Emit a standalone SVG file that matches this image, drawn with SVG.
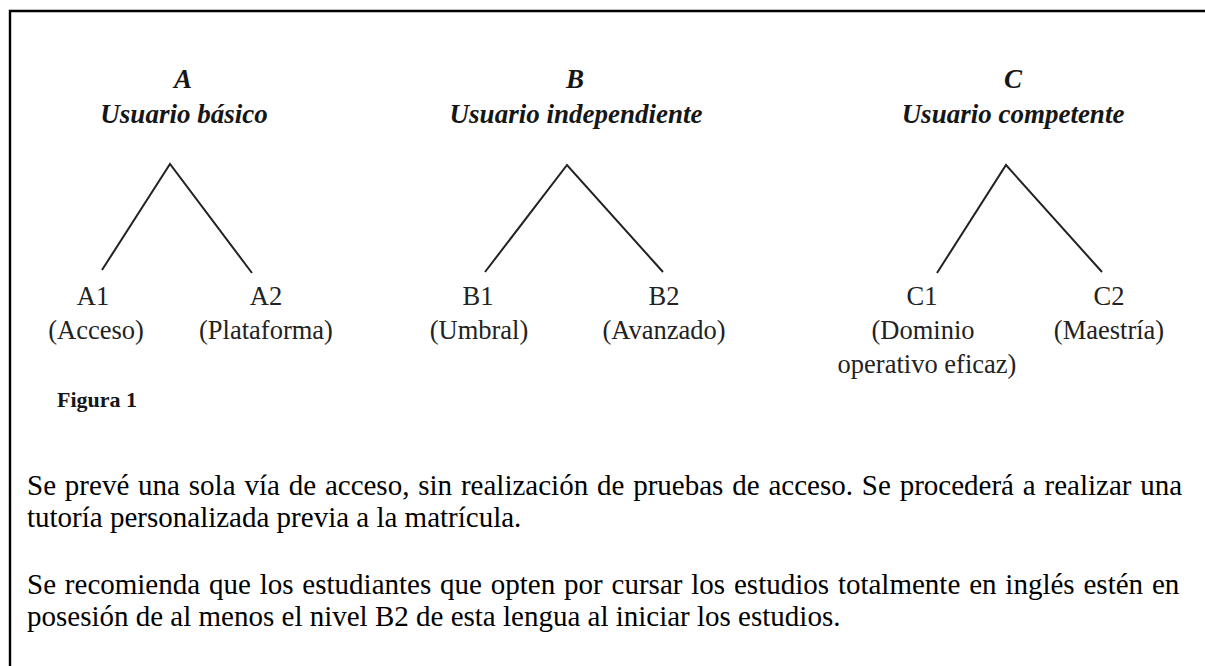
<svg xmlns="http://www.w3.org/2000/svg" width="1205" height="666" viewBox="0 0 1205 666">
<style>
.hd{font-family:"Liberation Serif","Times New Roman",serif;font-weight:bold;font-style:italic;font-size:27px;fill:#161616;text-anchor:middle}
.lb{font-family:"Liberation Serif","Times New Roman",serif;font-size:26.5px;fill:#222;text-anchor:middle}
.fg{font-family:"Liberation Serif","Times New Roman",serif;font-weight:bold;font-size:22px;fill:#161616}
.tx{font-family:"Liberation Serif","Times New Roman",serif;font-size:29px;fill:#000}
.jt{word-spacing:1.6px}
.ln{stroke:#222;stroke-width:2;fill:none}
</style>
<rect width="1205" height="666" fill="#fff"/>
<path d="M10 666 V11 H1205" stroke="#000" stroke-width="2.4" fill="none"/>
<g id="nodeA">
<text class="hd" x="183" y="88">A</text>
<text class="hd" x="184" y="123">Usuario básico</text>
</g>
<g id="nodeA1">
<text class="lb" x="93" y="305">A1</text>
<text class="lb" x="96" y="339">(Acceso)</text>
</g>
<g id="nodeA2">
<text class="lb" x="266" y="305">A2</text>
<text class="lb" x="266" y="339">(Plataforma)</text>
</g>
<g id="nodeB">
<text class="hd" x="575" y="88">B</text>
<text class="hd" x="576" y="123">Usuario independiente</text>
</g>
<g id="nodeB1">
<text class="lb" x="478" y="305">B1</text>
<text class="lb" x="479" y="339">(Umbral)</text>
</g>
<g id="nodeB2">
<text class="lb" x="664" y="305">B2</text>
<text class="lb" x="664" y="339">(Avanzado)</text>
</g>
<g id="nodeC">
<text class="hd" x="1013" y="88">C</text>
<text class="hd" x="1013" y="123">Usuario competente</text>
</g>
<g id="nodeC1">
<text class="lb" x="922" y="305">C1</text>
<text class="lb" x="923" y="339">(Dominio</text>
<text class="lb" x="927" y="373">operativo eficaz)</text>
</g>
<g id="nodeC2">
<text class="lb" x="1109" y="305">C2</text>
<text class="lb" x="1109" y="339">(Maestría)</text>
</g>
<g id="connectors">
<path class="ln" d="M102 270 L170 164 L252 273"/>
<path class="ln" d="M485 272 L567 165 L663 272"/>
<path class="ln" d="M937 273 L1006 165 L1102 272"/>
</g>
<g id="caption">
<text class="fg" x="57" y="407">Figura 1</text>
</g>
<g id="body">
<text class="tx jt" x="27" y="495">Se prevé una sola vía de acceso, sin realización de pruebas de acceso. Se procederá a realizar una</text>
<text class="tx" x="27" y="527">tutoría personalizada previa a la matrícula.</text>
<text class="tx jt" x="27" y="594">Se recomienda que los estudiantes que opten por cursar los estudios totalmente en inglés estén en</text>
<text class="tx" x="27" y="626">posesión de al menos el nivel B2 de esta lengua al iniciar los estudios.</text>
</g>
</svg>
